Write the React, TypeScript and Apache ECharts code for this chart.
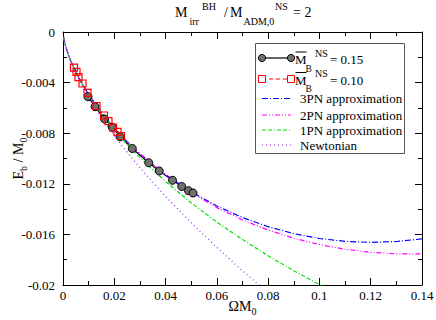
import React, { useEffect, useRef } from "react";
import * as echarts from "echarts";

// Orbital angular velocity (Omega M0) sample points for the PN curves
const omega3 = [0.0002, 0.0005, 0.001, 0.002, 0.003, 0.005, 0.0075, 0.01, 0.015, 0.02, 0.025, 0.03, 0.04, 0.05, 0.06, 0.07, 0.08, 0.09, 0.1, 0.11, 0.12, 0.13, 0.14];
const pn3 = [-0.00038, -0.0007, -0.0011, -0.00174, -0.002271, -0.003168, -0.004114, -0.00494, -0.006367, -0.007589, -0.008665, -0.009627, -0.011278, -0.012639, -0.013758, -0.014669, -0.015391, -0.015939, -0.016323, -0.016551, -0.01663, -0.016563, -0.016356];
const pn2 = [-0.00038, -0.0007, -0.0011, -0.00174, -0.002271, -0.003168, -0.004114, -0.004941, -0.00637, -0.007596, -0.008677, -0.009646, -0.01132, -0.012715, -0.013882, -0.014856, -0.015658, -0.016305, -0.016807, -0.017176, -0.017418, -0.017538, -0.017544];
const omega1 = [0.0002, 0.0005, 0.001, 0.002, 0.003, 0.005, 0.0075, 0.01, 0.015, 0.02, 0.025, 0.03, 0.04, 0.05, 0.06, 0.07, 0.08, 0.09, 0.1, 0.11];
const pn1 = [-0.00038, -0.0007, -0.0011, -0.00174, -0.002274, -0.003176, -0.004132, -0.004973, -0.006441, -0.007723, -0.008875, -0.009931, -0.011826, -0.013506, -0.015022, -0.016407, -0.017684, -0.018868, -0.019972, -0.021006];
const omegaN = [0.0002, 0.0005, 0.001, 0.002, 0.003, 0.005, 0.0075, 0.01, 0.015, 0.02, 0.025, 0.03, 0.04, 0.05, 0.06, 0.07, 0.076, 0.08];
const newton = [-0.00038, -0.0007, -0.00111, -0.00176, -0.00231, -0.00325, -0.00426, -0.00516, -0.00676, -0.00819, -0.0095, -0.01073, -0.013, -0.01508, -0.01703, -0.01888, -0.01993, -0.02063];

// Numerical sequences
const omega015 = [0.00975, 0.01248, 0.01618, 0.01923, 0.02223, 0.02702, 0.03342, 0.03752, 0.0427, 0.04629, 0.04894, 0.0507];
const eb015 = [-0.005115, -0.005905, -0.006877, -0.007534, -0.008277, -0.009209, -0.010332, -0.010988, -0.011723, -0.012213, -0.012545, -0.012727];
const omega010 = [0.00429, 0.00526, 0.00604, 0.0076, 0.00955, 0.01306, 0.01599, 0.01774, 0.0195, 0.02125, 0.02262];
const eb010 = [-0.00282, -0.00316, -0.00356, -0.00407, -0.00482, -0.00585, -0.0066, -0.00704, -0.00755, -0.0079, -0.00822];

const approxLabels = ["3PN approximation", "2PN approximation", "1PN approximation", "Newtonian"];
const seqLabels = ["= 0.15", "= 0.10"];

const FONT = "Liberation Serif";
const zip = (xs: number[], ys: number[]) => xs.map((x, i) => [x, ys[i]]);

const txt = (text: string, x: number, y: number, size: number, z = 12) => ({
  type: "text",
  x,
  y,
  z,
  style: {
    text, fontFamily: FONT, fontSize: size, fill: "#000", align: "left", verticalAlign: "middle",
    lineHeight: size,
  },
});

export default function App() {
  const ref = useRef<HTMLDivElement>(null);
  useEffect(() => {
    if (!ref.current) return;
    const chart = echarts.init(ref.current, undefined, { renderer: "svg" });
    const axisBase: any = {
      type: "value",
      axisLine: { onZero: false, lineStyle: { color: "#000", width: 1 } },
      axisTick: { inside: true, length: 7, lineStyle: { color: "#000" } },
      minorTick: { show: true, splitNumber: 2, length: 4, lineStyle: { color: "#000" } },
      splitLine: { show: false },
    };
    const xRange = { min: 0, max: 0.14, interval: 0.02 };
    const yRange = { min: -0.02, max: 0, interval: 0.004 };
    const rich = {
      m: { fontFamily: FONT, fontSize: 14, color: "#000", lineHeight: 20 },
      sub: { fontFamily: FONT, fontSize: 10, color: "#000", lineHeight: 10, verticalAlign: "bottom" },
    };
    const lineSeries = (name: string, xs: number[], ys: number[], color: string, dash: number[]) => ({
      name,
      type: "line",
      data: zip(xs, ys),
      showSymbol: false,
      symbol: "none",
      lineStyle: { color, width: 1.2, type: dash },
      clip: true,
    });
    const colors = ["#0000ff", "#ff00ff", "#00e000", "#a020f0"];
    const dashes = [[6, 2, 1, 2], [5, 2, 1, 2, 1, 2], [4, 2, 4, 2, 1, 2], [1, 3]];
    const legendY = [98.5, 115, 130, 145];
    const graphic: any[] = [
      // title pieces
      txt("M", 175, 12, 14),
      txt("irr", 189.5, 21.5, 10),
      txt("BH", 202, 6, 10),
      txt("/", 224, 12, 14),
      txt("M", 230, 12, 14),
      txt("ADM,0", 243.5, 21.5, 10),
      txt("NS", 275, 6, 10),
      txt("= 2", 293, 12, 14),
      // legend box
      {
        type: "rect",
        shape: { x: 255.5, y: 43.5, width: 149, height: 110 },
        style: { fill: "#fff", stroke: "#555", lineWidth: 1 },
        z: 10,
      },
      { type: "line", shape: { x1: 262, y1: 58, x2: 291, y2: 58 }, style: { stroke: "#000", lineWidth: 1.2 }, z: 11 },
      { type: "circle", shape: { cx: 262, cy: 58, r: 3.6 }, style: { fill: "#707070", stroke: "#000", lineWidth: 1 }, z: 12 },
      { type: "circle", shape: { cx: 291, cy: 58, r: 3.6 }, style: { fill: "#707070", stroke: "#000", lineWidth: 1 }, z: 12 },
      { type: "line", shape: { x1: 262, y1: 79, x2: 291, y2: 79 }, style: { stroke: "#ff0000", lineWidth: 1.2, lineDash: [4, 3] }, z: 11 },
      { type: "rect", shape: { x: 258.5, y: 75.5, width: 7, height: 7 }, style: { fill: "#fff", stroke: "#ff0000", lineWidth: 1 }, z: 12 },
      { type: "rect", shape: { x: 287.5, y: 75.5, width: 7, height: 7 }, style: { fill: "#fff", stroke: "#ff0000", lineWidth: 1 }, z: 12 },
    ];
    [59.5, 80].forEach((cy, i) => {
      graphic.push(txt("M", 295, cy, 13));
      graphic.push(txt("B", 305.5, cy + 9, 9.5));
      graphic.push(txt("NS", 315, cy - 6.5, 10));
      graphic.push(txt(seqLabels[i], 330, cy, 13));
      graphic.push({
        type: "line", z: 12,
        shape: { x1: 295.5, y1: cy - 7.5, x2: 306.5, y2: cy - 7.5 },
        style: { stroke: "#000", lineWidth: 1 },
      });
    });
    approxLabels.forEach((t, i) => {
      graphic.push({
        type: "line", z: 11,
        shape: { x1: 262, y1: legendY[i], x2: 291, y2: legendY[i] },
        style: { stroke: colors[i], lineWidth: 1.2, lineDash: dashes[i] },
      });
      graphic.push(txt(t, 300, legendY[i], 13));
    });

    chart.setOption({
      animation: false,
      backgroundColor: "#fff",
      grid: { left: 63, right: 14, top: 32, bottom: 35, containLabel: false, outerBoundsMode: "none" },
      xAxis: [
        {
          ...axisBase, ...xRange, position: "bottom",
          axisLabel: {
            color: "#000", fontFamily: FONT, fontSize: 13, margin: 4,
            formatter: (v: number) => String(+v.toFixed(2)),
          },
          name: "{m|ΩM}{sub|0}",
          nameLocation: "middle",
          nameGap: 11,
          nameMoveOverlap: false,
          nameTextStyle: { rich },
        },
        { ...axisBase, ...xRange, position: "top", axisLabel: { show: false } },
      ],
      yAxis: [
        {
          ...axisBase, ...yRange, position: "left",
          axisLabel: {
            color: "#000", fontFamily: FONT, fontSize: 13, margin: 8,
            formatter: (v: number) => String(+v.toFixed(3)),
          },
          name: "{m|E}{sub|b}{m| / M}{sub|0}",
          nameLocation: "middle",
          nameGap: 35,
          nameMoveOverlap: false,
          nameTextStyle: { rich },
        },
        { ...axisBase, ...yRange, position: "right", axisLabel: { show: false } },
      ],
      series: [
        {
          name: "0.15",
          type: "line",
          data: zip(omega015, eb015),
          symbol: "circle",
          symbolSize: 8,
          lineStyle: { color: "#000", width: 1.2 },
          itemStyle: { color: "#707070", borderColor: "#000", borderWidth: 1 },
        },
        {
          name: "0.10",
          type: "line",
          data: zip(omega010, eb010),
          symbol: "rect",
          symbolSize: 7,
          lineStyle: { color: "#ff0000", width: 1.2, type: [4, 3] },
          itemStyle: { color: "rgba(255,255,255,0)", borderColor: "#ff0000", borderWidth: 1.2 },
        },
        lineSeries("3PN", omega3, pn3, colors[0], dashes[0]),
        lineSeries("2PN", omega3, pn2, colors[1], dashes[1]),
        lineSeries("1PN", omega1, pn1, colors[2], dashes[2]),
        lineSeries("Newtonian", omegaN, newton, colors[3], dashes[3]),
      ],
      graphic,
    });
    return () => chart.dispose();
  }, []);
  return (
    <div
      ref={ref}
      style={{ position: "fixed", left: 0, top: 0, width: 436, height: 320, background: "#fff" }}
    />
  );
}
